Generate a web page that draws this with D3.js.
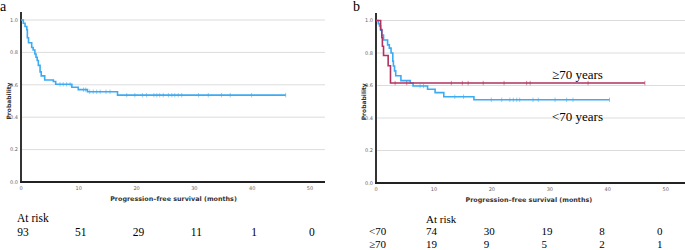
<!DOCTYPE html>
<html>
<head>
<meta charset="utf-8">
<script src="https://cdn.jsdelivr.net/npm/d3@7"></script>
<style>
  html, body { margin: 0; padding: 0; background: #fff; }
  svg { display: block; }
</style>
</head>
<body>
<div id="chart"></div>
<script>
// Panel a: all patients
var aTimes = [0, 0.4, 0.7, 1.0, 1.1, 1.3, 1.85, 2.1, 2.4, 2.6, 2.8, 3.0, 3.3, 3.5, 4.1, 5.6, 6.0, 8.8, 9.9, 11.5, 16.7];
var aSurv  = [1.0, 0.98, 0.96, 0.94, 0.89, 0.86, 0.83, 0.815, 0.79, 0.77, 0.75, 0.72, 0.68, 0.655, 0.63, 0.62, 0.603, 0.585, 0.57, 0.557, 0.536];
var aEnd = 45.8;
var aCensor = [6.75, 7.3, 7.9, 8.5, 10.8, 11.2, 11.9, 12.5, 13.1, 13.7, 14.7, 15.4, 18.3, 19.7, 21.0, 21.7, 23.0, 23.5, 24.0, 24.6, 25.5, 26.1, 26.6, 27.2, 27.8, 30.7, 32.4, 34.7, 36.2, 39.9, 45.8];
var aRiskTimes = [0, 10, 20, 30, 40, 50];
var aRisk = [93, 51, 29, 11, 1, 0];

// Panel b: <70 vs >=70 years
var bYoungTimes = [0, 0.4, 0.6, 0.8, 1.0, 1.3, 2.0, 2.3, 2.6, 2.9, 3.0, 3.2, 3.4, 4.3, 5.9, 6.4, 8.9, 10.2, 11.7, 16.9];
var bYoungSurv  = [1.0, 0.98, 0.966, 0.94, 0.91, 0.88, 0.85, 0.83, 0.80, 0.75, 0.72, 0.69, 0.66, 0.63, 0.615, 0.597, 0.577, 0.556, 0.531, 0.512];
var bYoungEnd = 40.3;
var bYoungCensor = [7.6, 8.2, 13.6, 15.1, 19.9, 21.7, 23.1, 23.7, 24.3, 24.8, 27.1, 28.0, 30.9, 32.9, 34.0, 40.3];

var bOldTimes = [0, 0.8, 1.0, 1.1, 1.3, 2.1, 2.5];
var bOldSurv  = [1.0, 0.945, 0.895, 0.842, 0.785, 0.722, 0.615];
var bOldEnd = 46.4;
var bOldCensor = [3.3, 5.3, 13.0, 14.9, 15.9, 18.5, 22.1, 26.0, 26.6, 36.6, 46.4];

var bRiskRows = ['<70', '\u226570'];
var bRiskYoung = [74, 30, 19, 8, 0];
var bRiskOld = [19, 9, 5, 2, 1];

var xTicks = [0, 10, 20, 30, 40, 50];
var yTicks = [0, 0.2, 0.4, 0.6, 0.8, 1.0];

var BLUE = '#3aabf4';
var RED = '#b1325f';
var serif = '"Liberation Serif", "DejaVu Serif", serif';
var sans = '"DejaVu Sans", "Liberation Sans", sans-serif';

var svg = d3.select('#chart').append('svg').attr('width', 685).attr('height', 250);

function panel(opt) {
  var x = d3.scaleLinear().domain([0, opt.xMax]).range([opt.x0, opt.x1]);
  var y = d3.scaleLinear().domain([0, 1]).range([opt.y0, opt.y1]);
  var g = svg.append('g');

  // grid
  g.selectAll('line.grid').data(yTicks.slice(1)).enter().append('line')
    .attr('x1', opt.x0).attr('x2', opt.x1)
    .attr('y1', function (d) { return y(d); }).attr('y2', function (d) { return y(d); })
    .attr('stroke', '#dcdcdc').attr('stroke-width', 1);

  // y tick labels
  g.selectAll('text.yt').data(yTicks).enter().append('text')
    .attr('x', opt.x0 - 3).attr('y', function (d) { return y(d) + 1.8; })
    .attr('text-anchor', 'end').attr('font-family', sans).attr('font-size', 5)
    .attr('fill', '#666').text(function (d) { return d.toFixed(1); });

  // x tick labels
  g.selectAll('text.xt').data(xTicks).enter().append('text')
    .attr('x', function (d) { return x(d); }).attr('y', opt.y0 + 8)
    .attr('text-anchor', 'middle').attr('font-family', sans).attr('font-size', 5)
    .attr('fill', '#666').text(function (d) { return d; });

  // axes lines
  g.append('line').attr('x1', opt.x0).attr('x2', opt.x0).attr('y1', opt.y0 + 1).attr('y2', opt.yTop)
    .attr('stroke', '#333').attr('stroke-width', 2);
  g.append('line').attr('x1', opt.x0 - 1).attr('x2', opt.x1).attr('y1', opt.y0).attr('y2', opt.y0)
    .attr('stroke', '#222').attr('stroke-width', 2);

  // labels
  g.append('text').attr('x', (opt.x0 + x(50)) / 2 + 8).attr('y', opt.y0 + 19)
    .attr('text-anchor', 'middle').attr('font-family', sans).attr('font-weight', 'bold')
    .attr('font-size', 6.4).attr('fill', '#333').text('Progression\u2013free survival (months)');
  g.append('text').attr('transform', 'translate(' + (opt.x0 - 10) + ',' + y(0.5) + ') rotate(-90)')
    .attr('text-anchor', 'middle').attr('font-family', sans).attr('font-weight', 'bold')
    .attr('font-size', 6).attr('fill', '#333').text('Probability');

  return { g: g, x: x, y: y };
}

function curve(p, times, surv, end, censor, color) {
  var pts = times.map(function (t, i) { return [t, surv[i]]; });
  pts.push([end, surv[surv.length - 1]]);
  var line = d3.line().curve(d3.curveStepAfter)
    .x(function (d) { return p.x(d[0]); }).y(function (d) { return p.y(d[1]); });
  p.g.append('path').datum(pts).attr('d', line)
    .attr('fill', 'none').attr('stroke', color).attr('stroke-width', 1.6);
  var bis = d3.bisector(function (d) { return d; }).right;
  p.g.selectAll(null).data(censor).enter().append('line')
    .attr('x1', function (d) { return p.x(d); }).attr('x2', function (d) { return p.x(d); })
    .attr('y1', function (d) { return p.y(surv[bis(times, d) - 1]) - 2.2; })
    .attr('y2', function (d) { return p.y(surv[bis(times, d) - 1]) + 2.2; })
    .attr('stroke', color).attr('stroke-width', 0.8).attr('opacity', 0.7);
}

// Panel a
var pa = panel({ xMax: 52.6, x0: 21, x1: 325, y0: 182, y1: 20, yTop: 12 });
curve(pa, aTimes, aSurv, aEnd, aCensor, BLUE);
svg.append('text').attr('x', 0).attr('y', 11).attr('font-family', serif).attr('font-size', 14).text('a');
svg.append('text').attr('x', 17).attr('y', 222).attr('font-family', serif).attr('font-size', 11.5).text('At risk');
svg.selectAll('text.ra').data(aRisk).enter().append('text')
  .attr('x', function (d, i) { return pa.x(aRiskTimes[i]) + 2; }).attr('y', 235.5)
  .attr('text-anchor', 'middle').attr('font-family', serif).attr('font-size', 11.5)
  .text(function (d) { return d; });

// Panel b
var pb = panel({ xMax: 53.5, x0: 376, x1: 686, y0: 183, y1: 20.5, yTop: 13 });
curve(pb, bYoungTimes, bYoungSurv, bYoungEnd, bYoungCensor, BLUE);
curve(pb, bOldTimes, bOldSurv, bOldEnd, bOldCensor, RED);
svg.append('text').attr('x', 353).attr('y', 11).attr('font-family', serif).attr('font-size', 14).text('b');
svg.append('text').attr('x', 552).attr('y', 79).attr('font-family', serif).attr('font-size', 13).text('\u226570 years');
svg.append('text').attr('x', 552).attr('y', 121).attr('font-family', serif).attr('font-size', 13).text('<70 years');

var col = d3.scaleLinear().domain([0, 4]).range([426, 657]);
var rowY = d3.scaleLinear().domain([0, 1, 2]).range([222.5, 235, 247.5]);
svg.append('text').attr('x', col(0)).attr('y', rowY(0)).attr('font-family', serif).attr('font-size', 11).text('At risk');
svg.selectAll('text.rl').data(bRiskRows).enter().append('text')
  .attr('x', 369).attr('y', function (d, i) { return rowY(i + 1); })
  .attr('font-family', serif).attr('font-size', 11).text(function (d) { return d; });
[bRiskYoung, bRiskOld].forEach(function (row, r) {
  svg.selectAll(null).data(row).enter().append('text')
    .attr('x', function (d, i) { return col(i); }).attr('y', rowY(r + 1))
    .attr('font-family', serif).attr('font-size', 11)
    .text(function (d) { return d; });
});
</script>
</body>
</html>
